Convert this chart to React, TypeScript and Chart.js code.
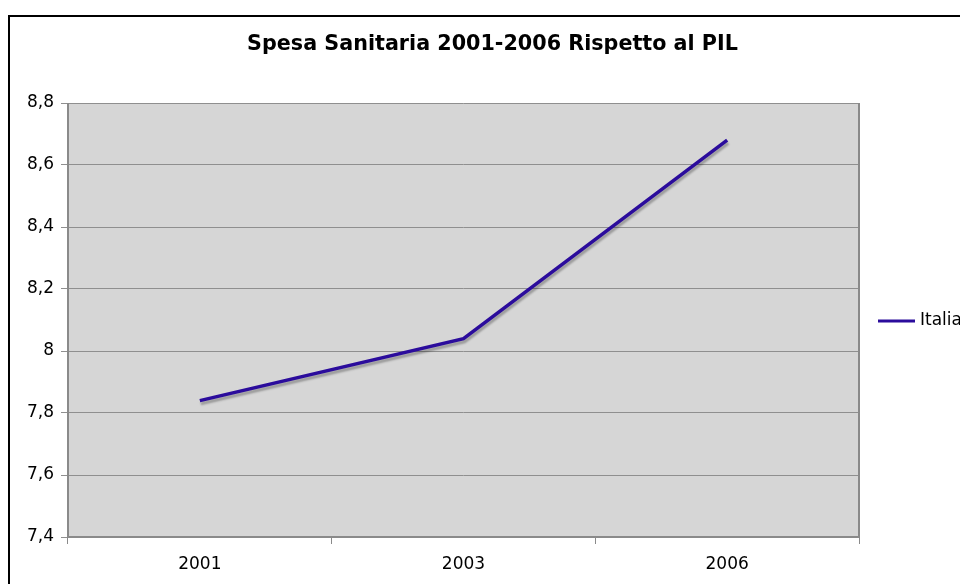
import React, { useEffect, useRef } from "react";
import { Chart, registerables } from "chart.js";

Chart.register(...registerables);

const title = "Spesa Sanitaria 2001-2006 Rispetto al PIL";
const years = ["2001", "2003", "2006"];
const seriesName = "Italia";
const italia = [7.84, 8.04, 8.68];
const yMin = 7.4;
const yMax = 8.8;
const yStep = 0.2;

const FONT = "'DejaVu Sans', Verdana, sans-serif";

const framePlugin = {
  id: "frame",
  beforeDraw(chart: any) {
    const { ctx, chartArea } = chart;
    ctx.save();
    ctx.fillStyle = "#ffffff";
    ctx.fillRect(0, 0, chart.width, chart.height);
    // outer border
    ctx.strokeStyle = "#000000";
    ctx.lineWidth = 2;
    ctx.strokeRect(1, 8, chart.width + 20, chart.height + 20);
    // plot background
    ctx.fillStyle = "#d6d6d6";
    ctx.fillRect(chartArea.left, chartArea.top, chartArea.right - chartArea.left, chartArea.bottom - chartArea.top);
    // title
    ctx.fillStyle = "#000000";
    ctx.font = `bold 20.7px ${FONT}`;
    ctx.textAlign = "center";
    ctx.textBaseline = "middle";
    ctx.fillText(title, 484.5, 37);
    ctx.restore();
  },
  afterDraw(chart: any) {
    const { ctx, chartArea } = chart;
    ctx.save();
    ctx.strokeStyle = "#8a8a8a";
    ctx.lineWidth = 2;
    ctx.beginPath();
    ctx.moveTo(chartArea.right, chartArea.top);
    ctx.lineTo(chartArea.right, chartArea.bottom);
    ctx.moveTo(chartArea.left, chartArea.top);
    ctx.lineTo(chartArea.left, chartArea.bottom);
    ctx.lineTo(chartArea.right, chartArea.bottom);
    ctx.stroke();
    // legend
    const ly = 313;
    ctx.strokeStyle = "#2b0c9c";
    ctx.lineWidth = 3;
    ctx.beginPath();
    ctx.moveTo(870, ly);
    ctx.lineTo(907, ly);
    ctx.stroke();
    ctx.fillStyle = "#000000";
    ctx.font = `17px ${FONT}`;
    ctx.textAlign = "left";
    ctx.textBaseline = "middle";
    ctx.fillText(seriesName, 912, ly);
    ctx.restore();
  },
  beforeDatasetsDraw(chart: any) {
    const { ctx } = chart;
    ctx.save();
    ctx.shadowColor = "rgba(0,0,0,0.28)";
    ctx.shadowOffsetX = 1;
    ctx.shadowOffsetY = 3;
    ctx.shadowBlur = 2;
  },
  afterDatasetsDraw(chart: any) {
    chart.ctx.restore();
  },
};

function fmt(v: number): string {
  const r = Math.round(v * 10) / 10;
  return String(r).replace(".", ",");
}

export default function App() {
  const ref = useRef<HTMLCanvasElement>(null);
  useEffect(() => {
    if (!ref.current) return;
    const chart = new Chart(ref.current, {
      type: "line",
      data: {
        labels: years,
        datasets: [
          {
            label: seriesName,
            data: italia,
            borderColor: "#2b0c9c",
            backgroundColor: "#2b0c9c",
            borderWidth: 3.5,
            pointRadius: 0,
            tension: 0,
            fill: false,
          },
        ],
      },
      options: {
        responsive: false,
        animation: false,
        devicePixelRatio: 1,
        layout: { padding: { left: 0, top: 95, right: 149, bottom: 71 } },
        plugins: {
          legend: { display: false },
          title: { display: false },
          tooltip: { enabled: false },
        },
        scales: {
          x: {
            type: "category",
            offset: true,
            grid: {
              offset: true,
              drawOnChartArea: false,
              drawTicks: true,
              tickLength: 7,
              color: "#8a8a8a",
              lineWidth: 1,
            },
            border: { display: false },
            ticks: {
              color: "#000000",
              font: { family: FONT, size: 17 },
              padding: 10,
              maxRotation: 0,
            },
            afterFit: (s: any) => {
              s.height = 50;
            },
          },
          y: {
            min: yMin,
            max: yMax,
            grid: {
              color: "#8f8f8f",
              lineWidth: 1,
              drawTicks: true,
              tickLength: 7,
            },
            border: { display: false },
            ticks: {
              stepSize: yStep,
              color: "#000000",
              font: { family: FONT, size: 17 },
              padding: 7,
              callback: (v: any) => fmt(Number(v)),
            },
            afterFit: (s: any) => {
              s.width = 60;
            },
          },
        },
      },
      plugins: [framePlugin],
    });
    return () => chart.destroy();
  }, []);
  return (
    <div
      style={{
        position: "fixed",
        left: 0,
        top: 0,
        width: 960,
        height: 584,
        overflow: "hidden",
        background: "#ffffff",
      }}
    >
      <canvas
        ref={ref}
        width={1000}
        height={650}
        style={{ display: "block", marginLeft: 8, marginTop: 8 }}
      />
    </div>
  );
}
